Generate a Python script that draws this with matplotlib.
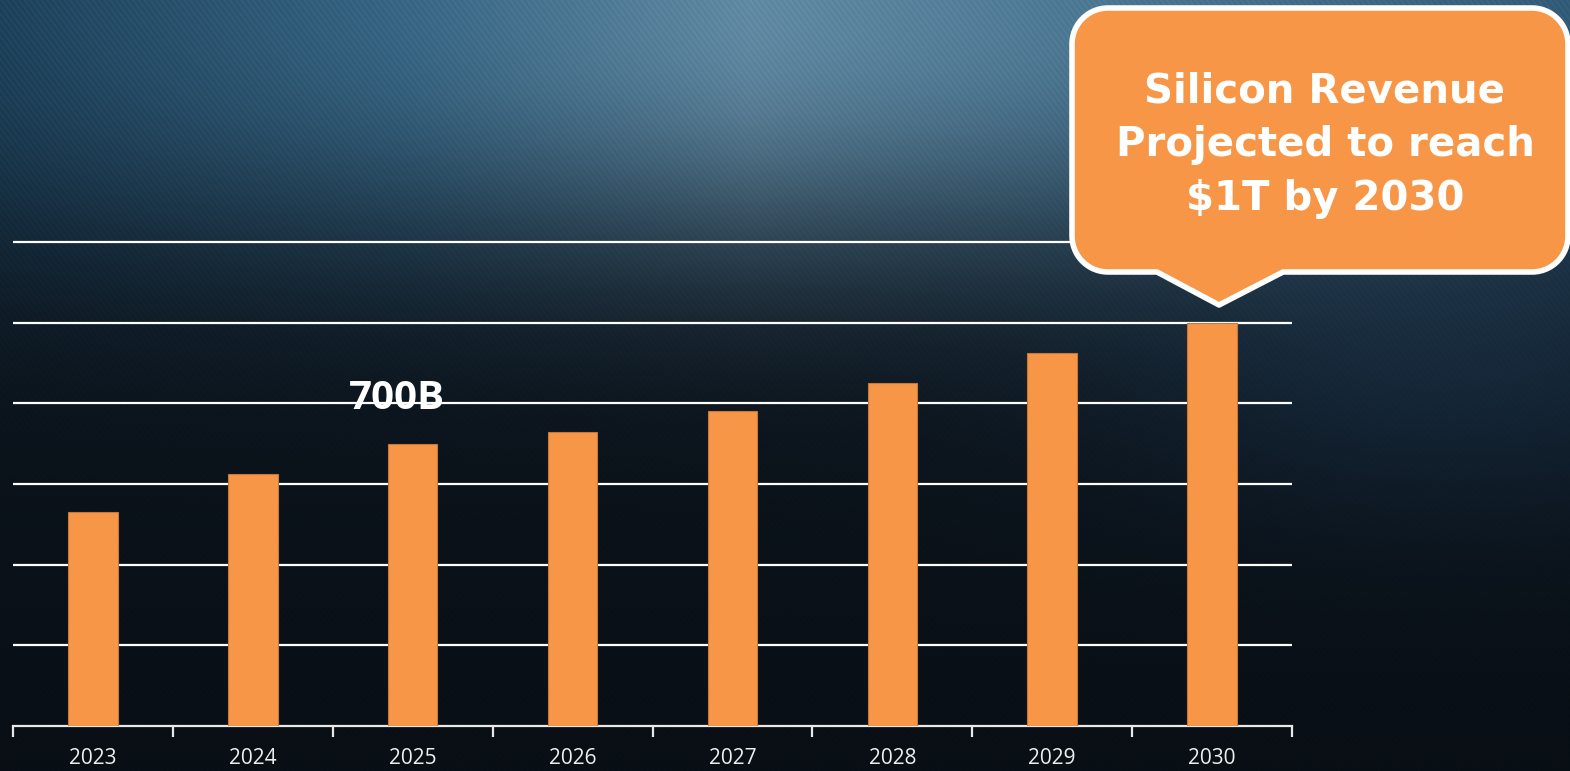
import matplotlib.pyplot as plt
import numpy as np
from matplotlib.path import Path
from matplotlib.patches import PathPatch

years = ['2023', '2024', '2025', '2026', '2027', '2028', '2029', '2030']
revenue = [530, 625, 700, 730, 780, 850, 925, 1000]  # $B
label_text = '700B'
callout_text = 'Silicon Revenue\nProjected to reach\n$1T by 2030'

W, H = 1570, 771
orange = '#F79646'

fig = plt.figure(figsize=(W / 100, H / 100), dpi=100)

# background: dark navy, blue band along the top with fine diagonal streaks
bg = fig.add_axes([0, 0, 1, 1], zorder=0)
yy, xx = np.mgrid[0:H, 0:W].astype(float)
base = np.array([0.055, 0.095, 0.135])
t = yy / H
img = base * (1 - 0.4 * t[..., None])
top_x = [0, 400, 750, 1100, 1570]
top_r = [0.12, 0.22, 0.38, 0.30, 0.20]
top_g = [0.26, 0.40, 0.54, 0.47, 0.36]
top_b = [0.36, 0.52, 0.64, 0.58, 0.47]
topc = np.stack([np.interp(xx[0], top_x, c) for c in (top_r, top_g, top_b)], -1)
f = np.exp(-(yy / 255.0) ** 2.5)
img = img + f[..., None] * (topc[None, :, :] - base)
glow2 = np.exp(-(((xx - 1450) / 350.0) ** 2 + ((yy - 380) / 150.0) ** 2))
img = img + glow2[..., None] * np.array([0.03, 0.06, 0.09])
streak = 0.012 * np.sin((xx - 0.75 * yy) * 1.1) * (0.2 + f)
img = np.clip(img + streak[..., None], 0, 1)
bg.imshow(img, extent=[0, W, H, 0], aspect='auto')
bg.set_xlim(0, W)
bg.set_ylim(H, 0)
bg.axis('off')

# main chart
ymax = 1250
base_px, unit_px = 726, (726 - 242) / 1200
ax = fig.add_axes([13 / W, (H - base_px) / H, (1292 - 13) / W,
                   ymax * unit_px / H], zorder=1)
ax.set_facecolor('none')
x = np.arange(len(years))
ax.bar(x, revenue, width=0.31, color=orange, edgecolor='#c8773a',
       linewidth=0.8, zorder=3)
ax.set_xlim(-0.5, len(years) - 0.5)
ax.set_ylim(0, ymax)
ax.set_yticks(np.arange(200, 1201, 200))
ax.yaxis.grid(True, color='white', linewidth=1.6, zorder=1)
ax.tick_params(axis='y', left=False, labelleft=False)
for s in ['top', 'right', 'left']:
    ax.spines[s].set_visible(False)
ax.spines['bottom'].set_color('#e8e8e8')
ax.spines['bottom'].set_linewidth(1.6)
ax.set_xticks(x)
ax.set_xticklabels(years, fontsize=15, color='#eeeeee', family='Open Sans')
ax.set_xticks(np.arange(-0.5, len(years)), minor=True)
ax.tick_params(axis='x', which='major', length=0, pad=16)
ax.tick_params(axis='x', which='minor', length=8, width=1.6, color='#e8e8e8')

ax.text(x[2] - 0.1, 812, label_text, ha='center', va='center', fontsize=29,
        fontweight='bold', color='white', family='Open Sans', zorder=4)

# callout bubble with pointer (pixel coordinates)
ov = fig.add_axes([0, 0, 1, 1], zorder=2)
ov.set_xlim(0, W)
ov.set_ylim(H, 0)
ov.axis('off')
L, R, T, B, r = 1072, 1568, 8, 272, 36
tip = (x[-1] + 0.5) / len(years) * (1292 - 13) + 13 + 7
pts = []
def arc(cx, cy, a0, a1):
    a = np.radians(np.linspace(a0, a1, 20))
    return list(zip(cx + r * np.cos(a), cy + r * np.sin(a)))
pts += arc(L + r, T + r, 180, 270)
pts += arc(R - r, T + r, 270, 360)
pts += arc(R - r, B - r, 0, 90)
pts += [(1283, B), (tip, 305), (1157, B)]
pts += arc(L + r, B - r, 90, 180)
pts.append(pts[0])
codes = [Path.MOVETO] + [Path.LINETO] * (len(pts) - 2) + [Path.CLOSEPOLY]
ov.add_patch(PathPatch(Path(pts, codes), facecolor=orange, edgecolor='white',
                       linewidth=4, joinstyle='round'))
ov.text((L + R) / 2 + 5, 145, callout_text, ha='center', va='center',
        fontsize=29, fontweight='bold', color='white', family='DejaVu Sans',
        linespacing=1.45)

fig.savefig('out.png', dpi=100)
